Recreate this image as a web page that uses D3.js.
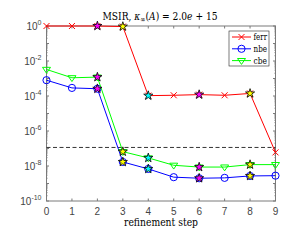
<!DOCTYPE html>
<html>
<head>
<meta charset="utf-8">
<script src="https://cdn.jsdelivr.net/npm/d3@7"></script>
<style>
  body { margin: 0; background: #fff; }
  svg { display: block; }
  .serif { font-family: "DejaVu Serif", serif; }
  .sans { font-family: "Liberation Sans", Roboto, sans-serif; }
</style>
</head>
<body>
<div id="chart"></div>
<script>
// values
const steps = [0, 1, 2, 3, 4, 5, 6, 7, 8, 9];
const ferr = [1, 1, 1, 0.93, 1.05e-4, 1.1e-4, 1.2e-4, 1.1e-4, 1.4e-4, 6e-8];
const nbe = [8e-4, 2.9e-4, 2.6e-4, 1.7e-8, 6.8e-9, 2.3e-9, 2.0e-9, 2.1e-9, 2.7e-9, 2.8e-9];
const cbe = [3.3e-3, 1.1e-3, 1.2e-3, 6.6e-8, 2.9e-8, 1.1e-8, 8.7e-9, 8.7e-9, 1.2e-8, 1.2e-8];
const tol = 1.15e-7;
// highlighted steps and their star colours
const starSteps = [2, 3, 4, 6, 8];
const starColors = ["#ff00ff", "#ffff00", "#00ffff", "#ff00ff", "#ffff00"];
const yTickExp = [0, -2, -4, -6, -8, -10];

const W = 292, H = 240;
const m = {left: 46.5, right: 16.5, top: 26, bottom: 39};

const svg = d3.select("#chart").append("svg")
    .attr("width", W)
    .attr("height", H);

const x = d3.scaleLinear().domain([0, 9]).range([m.left, W - m.right]);
const y = d3.scaleLog().domain([1e-10, 1]).range([H - m.bottom, m.top]);

const axisCol = "#7a7a7a";
const tickTxt = "#444";

// box
svg.append("rect")
    .attr("x", x(0)).attr("y", y(1))
    .attr("width", x(9) - x(0)).attr("height", y(1e-10) - y(1))
    .attr("fill", "none").attr("stroke", axisCol).attr("stroke-width", 1);

// x ticks bottom and top
const gx = svg.append("g");
steps.forEach(s => {
    gx.append("line").attr("x1", x(s)).attr("x2", x(s))
        .attr("y1", y(1e-10)).attr("y2", y(1e-10) - 2.5).attr("stroke", axisCol);
    gx.append("line").attr("x1", x(s)).attr("x2", x(s))
        .attr("y1", y(1)).attr("y2", y(1) + 2.5).attr("stroke", axisCol);
    gx.append("text").attr("class", "sans").attr("x", x(s)).attr("y", y(1e-10) + 14)
        .attr("text-anchor", "middle")
        .attr("font-size", 10).attr("fill", tickTxt)
        .text(s);
});

// y ticks: major every decade, minor inside decades
const gy = svg.append("g");
for (let e = -10; e <= 0; e++) {
    const v = Math.pow(10, e);
    [x(0), x(9)].forEach((xx, i) => {
        const dir = i === 0 ? 1 : -1;
        gy.append("line").attr("x1", xx).attr("x2", xx + dir * 2.5)
            .attr("y1", y(v)).attr("y2", y(v)).attr("stroke", axisCol);
        if (e < 0) {
            for (let k = 2; k <= 9; k++) {
                gy.append("line").attr("x1", xx).attr("x2", xx + dir * 1.3)
                    .attr("y1", y(k * v)).attr("y2", y(k * v))
                    .attr("stroke", axisCol).attr("stroke-width", 0.6);
            }
        }
    });
}
yTickExp.forEach(e => {
    const t = gy.append("text").attr("class", "sans")
        .attr("x", m.left - 5).attr("y", y(Math.pow(10, e)) + 4)
        .attr("text-anchor", "end")
        .attr("font-size", 10).attr("fill", tickTxt);
    t.append("tspan").text("10");
    t.append("tspan").attr("dy", -5).attr("font-size", 7).text(e === 0 ? "0" : "-" + (-e));
});

// tolerance line
svg.append("line")
    .attr("x1", x(0)).attr("x2", x(9))
    .attr("y1", y(tol)).attr("y2", y(tol))
    .attr("stroke", "#333").attr("stroke-width", 1)
    .attr("stroke-dasharray", "4,2.5");

const line = vals => d3.line().x((d, i) => x(steps[i])).y(d => y(d))(vals);

const series = [
    {name: "ferr", vals: ferr, color: "#ff0000", mark: "x"},
    {name: "nbe", vals: nbe, color: "#0000ff", mark: "o"},
    {name: "cbe", vals: cbe, color: "#00ff00", mark: "v"}
];

function marker(g, type, cx, cy, color) {
    if (type === "x") {
        const r = 3;
        g.append("path")
            .attr("d", `M${cx - r},${cy - r}L${cx + r},${cy + r}M${cx - r},${cy + r}L${cx + r},${cy - r}`)
            .attr("stroke", color).attr("stroke-width", 1).attr("fill", "none");
    } else if (type === "o") {
        g.append("circle").attr("cx", cx).attr("cy", cy).attr("r", 3.6)
            .attr("stroke", color).attr("stroke-width", 1).attr("fill", "none");
    } else {
        const a = 4, b = 3.8;
        g.append("path")
            .attr("d", `M${cx - a},${cy - b * 0.55}L${cx + a},${cy - b * 0.55}L${cx},${cy + b * 1.0}Z`)
            .attr("stroke", color).attr("stroke-width", 1).attr("fill", "none");
    }
}

const plot = svg.append("g");
series.forEach(s => {
    plot.append("path").attr("d", line(s.vals))
        .attr("fill", "none").attr("stroke", s.color).attr("stroke-width", 1);
    s.vals.forEach((v, i) => marker(plot, s.mark, x(steps[i]), y(v), s.color));
});

// stars on highlighted steps
const star = d3.symbol().type(d3.symbolStar).size(26);
series.forEach(s => {
    starSteps.forEach((st, j) => {
        plot.append("path").attr("d", star())
            .attr("transform", `translate(${x(st)},${y(s.vals[st])})`)
            .attr("fill", starColors[j]).attr("stroke", "#000").attr("stroke-width", 0.8);
    });
});

// legend
const lg = svg.append("g").attr("transform", "translate(229,31)");
lg.append("rect").attr("width", 40).attr("height", 35)
    .attr("fill", "#fff").attr("stroke", "#262626").attr("stroke-width", 0.6);
series.forEach((s, i) => {
    const ly = 6 + i * 11.8;
    lg.append("line").attr("x1", 3).attr("x2", 22).attr("y1", ly).attr("y2", ly)
        .attr("stroke", s.color).attr("stroke-width", 1);
    marker(lg, s.mark, 12.5, ly, s.color);
    lg.append("text").attr("class", "serif").attr("x", 24.5).attr("y", ly + 3)
        .attr("font-size", 9).attr("fill", "#000")
        .attr("textLength", 13.5).attr("lengthAdjust", "spacingAndGlyphs")
        .text(s.name);
});

// title, squeezed a bit horizontally (DejaVu Serif is wider than the original)
const title = svg.append("g").attr("transform", "translate(160,19.5) scale(0.83,1)")
    .append("text").attr("class", "serif")
    .attr("text-anchor", "middle")
    .attr("font-size", 11).attr("fill", "#000");
title.append("tspan").text("MSIR, ");
title.append("tspan").attr("font-style", "italic").text("κ");
title.append("tspan").attr("dy", 2.5).attr("font-size", 7.5).text("∞");
title.append("tspan").attr("dy", -2.5).text("(");
title.append("tspan").attr("font-style", "italic").text("A");
title.append("tspan").text(") = 2.0");
title.append("tspan").attr("font-style", "italic").text("e");
title.append("tspan").text(" + 15");

// x label
svg.append("text").attr("class", "serif").attr("x", x(4.5)).attr("y", 225.5)
    .attr("text-anchor", "middle")
    .attr("font-size", 10.5).attr("fill", "#000")
    .attr("textLength", 74).attr("lengthAdjust", "spacingAndGlyphs")
    .text("refinement step");
</script>
</body>
</html>
